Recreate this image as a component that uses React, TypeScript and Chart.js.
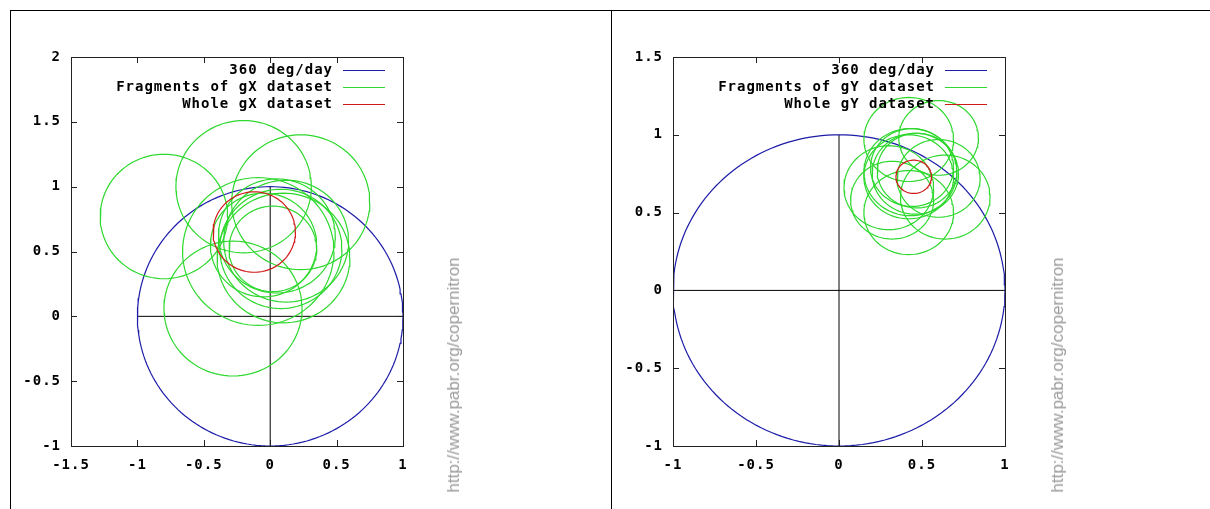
import React, { useEffect, useRef } from "react";
import { Chart, registerables } from "chart.js";

Chart.register(...registerables);

// ---------- Left panel: gX ----------
const gxTicksX = [-1.5, -1, -0.5, 0, 0.5, 1];
const gxTicksY = [-1, -0.5, 0, 0.5, 1, 1.5, 2];
const gxFragCx = [-0.8, -0.2, 0.23, -0.28, -0.09, 0.08, 0.05, 0.12, 0.02, -0.05, 0.1];
const gxFragCy = [0.77, 1.0, 0.88, 0.06, 0.5, 0.52, 0.62, 0.58, 0.52, 0.55, 0.45];
const gxFragR = [0.48, 0.51, 0.52, 0.52, 0.57, 0.46, 0.44, 0.47, 0.33, 0.4, 0.5];
const gxWholeCx = [-0.12];
const gxWholeCy = [0.65];
const gxWholeR = [0.31];
const gxLegend = ["360 deg/day", "Fragments of gX dataset", "Whole gX dataset"];

// ---------- Right panel: gY ----------
const gyTicksX = [-1, -0.5, 0, 0.5, 1];
const gyTicksY = [-1, -0.5, 0, 0.5, 1, 1.5];
const gyFragCx = [0.42, 0.6, 0.43, 0.46, 0.44, 0.42, 0.3, 0.42, 0.64, 0.32, 0.6, 0.47];
const gyFragCy = [0.97, 0.98, 0.76, 0.75, 0.79, 0.73, 0.66, 0.5, 0.6, 0.58, 0.72, 0.77];
const gyFragR = [0.27, 0.24, 0.28, 0.26, 0.25, 0.27, 0.27, 0.27, 0.27, 0.25, 0.25, 0.24];
const gyWholeCx = [0.45];
const gyWholeCy = [0.73];
const gyWholeR = [0.107];
const gyLegend = ["360 deg/day", "Fragments of gY dataset", "Whole gY dataset"];

// ---------- Shared reference ----------
const refCircleCx = [0];
const refCircleCy = [0];
const refCircleR = [1];
const crossHX = [-1, 1];
const crossHY = [0, 0];
const crossVX = [0, 0];
const crossVY = [-1, 1];

const watermark = "http://www.pabr.org/copernitron";

const BLUE = "#1c1ca8";
const GREEN = "#2ed82e";
const RED = "#d01a1a";
const FONT = { family: "'DejaVu Sans Mono', monospace", size: 14, weight: "bold" as const };

function circlePoints(cx: number, cy: number, r: number, n: number) {
  const pts: { x: number; y: number }[] = [];
  for (let i = 0; i <= n; i++) {
    const a = (i / n) * Math.PI * 2;
    pts.push({ x: cx + r * Math.cos(a), y: cy + r * Math.sin(a) });
  }
  return pts;
}

function lineDs(data: { x: number; y: number }[], color: string, w = 1.2) {
  return {
    data,
    showLine: true,
    borderColor: color,
    borderWidth: w,
    pointRadius: 0,
    fill: false,
    tension: 0,
  };
}

type PanelCfg = {
  ticksX: number[];
  ticksY: number[];
  fragCx: number[];
  fragCy: number[];
  fragR: number[];
  wholeCx: number[];
  wholeCy: number[];
  wholeR: number[];
  legend: string[];
  padRight: number;
  yWidth: number;
};

const gnuplotPlugin = {
  id: "gnuplotDecor",
  beforeDraw(chart: any) {
    (chart.ctx as any).letterSpacing = "1px";
  },
  afterDraw(chart: any) {
    const ctx = chart.ctx as CanvasRenderingContext2D;
    const { left, right, top, bottom } = chart.chartArea;
    const xs = chart.scales.x;
    const ys = chart.scales.y;
    ctx.save();
    ctx.strokeStyle = "#222";
    ctx.lineWidth = 1;
    ctx.beginPath();
    const tl = 6;
    xs.ticks.forEach((t: any) => {
      const p = Math.round(xs.getPixelForValue(t.value)) + 0.5;
      ctx.moveTo(p, bottom);
      ctx.lineTo(p, bottom - tl);
      ctx.moveTo(p, top);
      ctx.lineTo(p, top + tl);
    });
    ys.ticks.forEach((t: any) => {
      const p = Math.round(ys.getPixelForValue(t.value)) + 0.5;
      ctx.moveTo(left, p);
      ctx.lineTo(left + tl, p);
      ctx.moveTo(right, p);
      ctx.lineTo(right - tl, p);
    });
    ctx.stroke();
    ctx.strokeRect(Math.round(left) + 0.5, Math.round(top) + 0.5, Math.round(right - left), Math.round(bottom - top));

    // key (gnuplot style: right-aligned text, then line sample)
    const labels: string[] = chart.options.plugins.gnuplotDecor.labels;
    const colors = [BLUE, GREEN, RED];
    (ctx as any).letterSpacing = "1px";
    ctx.font = "bold 14px 'DejaVu Sans Mono', monospace";
    ctx.fillStyle = "#000";
    ctx.textAlign = "right";
    ctx.textBaseline = "middle";
    ctx.lineWidth = 1.2;
    labels.forEach((lab, i) => {
      const y = top + 13 + i * 17;
      ctx.fillText(lab, right - 70, y + 0.5);
      ctx.strokeStyle = colors[i];
      ctx.beginPath();
      ctx.moveTo(right - 60, Math.round(y) + 0.5);
      ctx.lineTo(right - 18, Math.round(y) + 0.5);
      ctx.stroke();
    });
    ctx.restore();
  },
};

function Panel({ left, width, cfg }: { left: number; width: number; cfg: PanelCfg }) {
  const ref = useRef<HTMLCanvasElement>(null);
  useEffect(() => {
    const datasets: any[] = [];
    cfg.wholeCx.forEach((cx, i) => datasets.push(lineDs(circlePoints(cx, cfg.wholeCy[i], cfg.wholeR[i], 96), RED)));
    cfg.fragCx.forEach((cx, i) => datasets.push(lineDs(circlePoints(cx, cfg.fragCy[i], cfg.fragR[i], 96), GREEN)));
    refCircleCx.forEach((cx, i) => datasets.push(lineDs(circlePoints(cx, refCircleCy[i], refCircleR[i], 180), BLUE)));
    datasets.push(lineDs(crossHX.map((x, i) => ({ x, y: crossHY[i] })), "#000", 1));
    datasets.push(lineDs(crossVX.map((x, i) => ({ x, y: crossVY[i] })), "#000", 1));

    const chart = new Chart(ref.current!, {
      type: "scatter",
      data: { datasets },
      plugins: [gnuplotPlugin],
      options: {
        animation: false,
        responsive: false,
        maintainAspectRatio: false,
        events: [],
        layout: { padding: { left: 0, right: cfg.padRight, top: 47, bottom: 23 } },
        plugins: {
          legend: { display: false },
          tooltip: { enabled: false },
          gnuplotDecor: { labels: cfg.legend },
        } as any,
        scales: {
          x: {
            type: "linear",
            min: cfg.ticksX[0],
            max: cfg.ticksX[cfg.ticksX.length - 1],
            afterBuildTicks: (s: any) => {
              s.ticks = cfg.ticksX.map((v) => ({ value: v }));
            },
            afterFit: (s: any) => {
              s.height = 40;
            },
            ticks: {
              callback: (v: any) => String(v),
              color: "#000",
              font: FONT,
              padding: 11,
              maxRotation: 0,
              autoSkip: false,
            },
            grid: { display: false, drawTicks: false },
            border: { display: false },
          },
          y: {
            type: "linear",
            min: cfg.ticksY[0],
            max: cfg.ticksY[cfg.ticksY.length - 1],
            afterBuildTicks: (s: any) => {
              s.ticks = cfg.ticksY.map((v) => ({ value: v }));
            },
            afterFit: (s: any) => {
              s.width = cfg.yWidth;
            },
            ticks: {
              callback: (v: any) => String(v),
              color: "#000",
              font: FONT,
              padding: 10,
              autoSkip: false,
            },
            grid: { display: false, drawTicks: false },
            border: { display: false },
          },
        },
      } as any,
    });
    return () => chart.destroy();
  }, []);
  return (
    <canvas
      ref={ref}
      width={width}
      height={499}
      style={{ position: "absolute", left, top: 10, width, height: 499 }}
    />
  );
}

const leftCfg: PanelCfg = {
  ticksX: gxTicksX,
  ticksY: gxTicksY,
  fragCx: gxFragCx,
  fragCy: gxFragCy,
  fragR: gxFragR,
  wholeCx: gxWholeCx,
  wholeCy: gxWholeCy,
  wholeR: gxWholeR,
  legend: gxLegend,
  padRight: 207,
  yWidth: 61,
};

const rightCfg: PanelCfg = {
  ticksX: gyTicksX,
  ticksY: gyTicksY,
  fragCx: gyFragCx,
  fragCy: gyFragCy,
  fragR: gyFragR,
  wholeCx: gyWholeCx,
  wholeCy: gyWholeCy,
  wholeR: gyWholeR,
  legend: gyLegend,
  padRight: 205,
  yWidth: 62,
};

function Watermark({ cx }: { cx: number }) {
  return (
    <div
      style={{
        position: "absolute",
        left: cx,
        top: 375,
        transform: "translate(-50%, -50%) rotate(-90deg)",
        whiteSpace: "nowrap",
        fontFamily: "'Liberation Sans', Arial, sans-serif",
        fontSize: 17,
        color: "#9a9a9a",
        lineHeight: "18px",
      }}
    >
      {watermark}
    </div>
  );
}

export default function App() {
  return (
    <div
      style={{
        position: "absolute",
        left: 0,
        top: 0,
        width: 1210,
        height: 509,
        background: "#fff",
        overflow: "hidden",
      }}
    >
      <Panel left={10} width={600} cfg={leftCfg} />
      <Panel left={611} width={599} cfg={rightCfg} />
      <Watermark cx={454} />
      <Watermark cx={1058} />
      <div style={{ position: "absolute", left: 10, top: 10, width: 1200, height: 1, background: "#000" }} />
      <div style={{ position: "absolute", left: 10, top: 10, width: 1, height: 499, background: "#000" }} />
      <div style={{ position: "absolute", left: 611, top: 10, width: 1, height: 499, background: "#000" }} />
    </div>
  );
}
